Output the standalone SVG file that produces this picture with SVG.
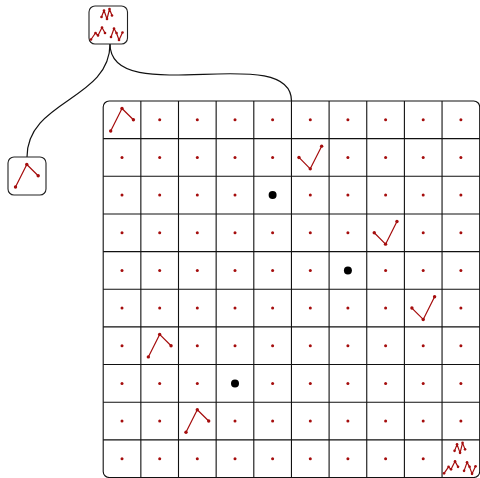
<svg xmlns="http://www.w3.org/2000/svg" xmlns:xlink="http://www.w3.org/1999/xlink" width="480" height="478" viewBox="0 0 480 478">
<style>
.box{fill:#fff;stroke:#222;stroke-width:1.1}
.grid{fill:none;stroke:#111;stroke-width:1.1}
.link{fill:none;stroke:#111;stroke-width:1.2}
.g{fill:none;stroke:#a50d0d;stroke-width:1.2;stroke-linejoin:round}
.v{fill:#a50d0d}
.dot{fill:#a50d0d}
.big{fill:#000}
</style>
<defs>
<g id="lam">
<polyline class="g" points="7.5,30 18.8,7.5 30.2,18.8"/>
<circle class="v" cx="7.5" cy="30" r="1.7"/><circle class="v" cx="18.8" cy="7.5" r="1.7"/><circle class="v" cx="30.2" cy="18.8" r="1.7"/>
</g>
<g id="vee">
<polyline class="g" points="7.5,18.8 18.8,30.2 30.2,7.5"/>
<circle class="v" cx="7.5" cy="18.8" r="1.7"/><circle class="v" cx="18.8" cy="30.2" r="1.7"/><circle class="v" cx="30.2" cy="7.5" r="1.7"/>
</g>
<g id="combo">
<polyline class="g" points="12.5,11 15,4.5 18,13 20.5,3 23,9.5"/>
<circle class="v" cx="12.5" cy="11" r="1.3"/><circle class="v" cx="15" cy="4.5" r="1.3"/><circle class="v" cx="18" cy="13" r="1.3"/><circle class="v" cx="20.5" cy="3" r="1.3"/><circle class="v" cx="23" cy="9.5" r="1.3"/>
<polyline class="g" points="2,33.5 6.5,27 9,29.5 13,21.5 16,27"/>
<circle class="v" cx="2" cy="33.5" r="1.3"/><circle class="v" cx="6.5" cy="27" r="1.3"/><circle class="v" cx="9" cy="29.5" r="1.3"/><circle class="v" cx="13" cy="21.5" r="1.3"/><circle class="v" cx="16" cy="27" r="1.3"/>
<polyline class="g" points="22,31 25,22.5 27.5,27 30,34 33.5,26.5"/>
<circle class="v" cx="22" cy="31" r="1.3"/><circle class="v" cx="25" cy="22.5" r="1.3"/><circle class="v" cx="27.5" cy="27" r="1.3"/><circle class="v" cx="30" cy="34" r="1.3"/><circle class="v" cx="33.5" cy="26.5" r="1.3"/>
</g>
</defs>

<g id="connectors">
<path class="link" d="M110,44 C110,100 27,100 27,157"/>
<path class="link" d="M110,44 C110,110 291.5,40 291.5,101"/>
</g>

<g id="root">
<rect class="box" x="89" y="6" width="38.5" height="38" rx="6"/>
<use xlink:href="#combo" x="89" y="6"/>
</g>

<g id="left">
<rect class="box" x="8" y="157" width="38" height="38" rx="6"/>
<use xlink:href="#lam" x="8" y="157"/>
</g>

<g id="grid">
<rect class="grid" x="103.2" y="101" width="376.5" height="376.5" rx="6" style="fill:#fff"/>
<path class="grid" d="M140.85,101V477.5M178.5,101V477.5M216.15,101V477.5M253.8,101V477.5M291.45,101V477.5M329.1,101V477.5M366.75,101V477.5M404.4,101V477.5M442.05,101V477.5M103.2,138.65H479.7M103.2,176.3H479.7M103.2,213.95H479.7M103.2,251.6H479.7M103.2,289.25H479.7M103.2,326.9H479.7M103.2,364.55H479.7M103.2,402.2H479.7M103.2,439.85H479.7"/>
</g>

<g id="cells">
<use xlink:href="#lam" x="103.2" y="101"/>
<use xlink:href="#vee" x="291.45" y="138.65"/>
<use xlink:href="#vee" x="366.75" y="213.95"/>
<use xlink:href="#vee" x="404.4" y="289.25"/>
<use xlink:href="#lam" x="140.85" y="326.9"/>
<use xlink:href="#lam" x="178.5" y="402.2"/>
<use xlink:href="#combo" x="442.05" y="439.85"/>
<circle class="big" cx="272.6" cy="195.1" r="4"/>
<circle class="big" cx="347.9" cy="270.4" r="4"/>
<circle class="big" cx="235" cy="383.4" r="4"/>
</g>

<g id="dots">
<circle class="dot" cx="159.7" cy="119.8" r="1.5"/><circle class="dot" cx="197.3" cy="119.8" r="1.5"/><circle class="dot" cx="235" cy="119.8" r="1.5"/><circle class="dot" cx="272.6" cy="119.8" r="1.5"/><circle class="dot" cx="310.3" cy="119.8" r="1.5"/><circle class="dot" cx="347.9" cy="119.8" r="1.5"/><circle class="dot" cx="385.6" cy="119.8" r="1.5"/><circle class="dot" cx="423.2" cy="119.8" r="1.5"/><circle class="dot" cx="460.9" cy="119.8" r="1.5"/>
<circle class="dot" cx="122" cy="157.5" r="1.5"/><circle class="dot" cx="159.7" cy="157.5" r="1.5"/><circle class="dot" cx="197.3" cy="157.5" r="1.5"/><circle class="dot" cx="235" cy="157.5" r="1.5"/><circle class="dot" cx="272.6" cy="157.5" r="1.5"/><circle class="dot" cx="347.9" cy="157.5" r="1.5"/><circle class="dot" cx="385.6" cy="157.5" r="1.5"/><circle class="dot" cx="423.2" cy="157.5" r="1.5"/><circle class="dot" cx="460.9" cy="157.5" r="1.5"/>
<circle class="dot" cx="122" cy="195.1" r="1.5"/><circle class="dot" cx="159.7" cy="195.1" r="1.5"/><circle class="dot" cx="197.3" cy="195.1" r="1.5"/><circle class="dot" cx="235" cy="195.1" r="1.5"/><circle class="dot" cx="310.3" cy="195.1" r="1.5"/><circle class="dot" cx="347.9" cy="195.1" r="1.5"/><circle class="dot" cx="385.6" cy="195.1" r="1.5"/><circle class="dot" cx="423.2" cy="195.1" r="1.5"/><circle class="dot" cx="460.9" cy="195.1" r="1.5"/>
<circle class="dot" cx="122" cy="232.8" r="1.5"/><circle class="dot" cx="159.7" cy="232.8" r="1.5"/><circle class="dot" cx="197.3" cy="232.8" r="1.5"/><circle class="dot" cx="235" cy="232.8" r="1.5"/><circle class="dot" cx="272.6" cy="232.8" r="1.5"/><circle class="dot" cx="310.3" cy="232.8" r="1.5"/><circle class="dot" cx="347.9" cy="232.8" r="1.5"/><circle class="dot" cx="423.2" cy="232.8" r="1.5"/><circle class="dot" cx="460.9" cy="232.8" r="1.5"/>
<circle class="dot" cx="122" cy="270.4" r="1.5"/><circle class="dot" cx="159.7" cy="270.4" r="1.5"/><circle class="dot" cx="197.3" cy="270.4" r="1.5"/><circle class="dot" cx="235" cy="270.4" r="1.5"/><circle class="dot" cx="272.6" cy="270.4" r="1.5"/><circle class="dot" cx="310.3" cy="270.4" r="1.5"/><circle class="dot" cx="385.6" cy="270.4" r="1.5"/><circle class="dot" cx="423.2" cy="270.4" r="1.5"/><circle class="dot" cx="460.9" cy="270.4" r="1.5"/>
<circle class="dot" cx="122" cy="308.1" r="1.5"/><circle class="dot" cx="159.7" cy="308.1" r="1.5"/><circle class="dot" cx="197.3" cy="308.1" r="1.5"/><circle class="dot" cx="235" cy="308.1" r="1.5"/><circle class="dot" cx="272.6" cy="308.1" r="1.5"/><circle class="dot" cx="310.3" cy="308.1" r="1.5"/><circle class="dot" cx="347.9" cy="308.1" r="1.5"/><circle class="dot" cx="385.6" cy="308.1" r="1.5"/><circle class="dot" cx="460.9" cy="308.1" r="1.5"/>
<circle class="dot" cx="122" cy="345.7" r="1.5"/><circle class="dot" cx="197.3" cy="345.7" r="1.5"/><circle class="dot" cx="235" cy="345.7" r="1.5"/><circle class="dot" cx="272.6" cy="345.7" r="1.5"/><circle class="dot" cx="310.3" cy="345.7" r="1.5"/><circle class="dot" cx="347.9" cy="345.7" r="1.5"/><circle class="dot" cx="385.6" cy="345.7" r="1.5"/><circle class="dot" cx="423.2" cy="345.7" r="1.5"/><circle class="dot" cx="460.9" cy="345.7" r="1.5"/>
<circle class="dot" cx="122" cy="383.4" r="1.5"/><circle class="dot" cx="159.7" cy="383.4" r="1.5"/><circle class="dot" cx="197.3" cy="383.4" r="1.5"/><circle class="dot" cx="272.6" cy="383.4" r="1.5"/><circle class="dot" cx="310.3" cy="383.4" r="1.5"/><circle class="dot" cx="347.9" cy="383.4" r="1.5"/><circle class="dot" cx="385.6" cy="383.4" r="1.5"/><circle class="dot" cx="423.2" cy="383.4" r="1.5"/><circle class="dot" cx="460.9" cy="383.4" r="1.5"/>
<circle class="dot" cx="122" cy="421" r="1.5"/><circle class="dot" cx="159.7" cy="421" r="1.5"/><circle class="dot" cx="235" cy="421" r="1.5"/><circle class="dot" cx="272.6" cy="421" r="1.5"/><circle class="dot" cx="310.3" cy="421" r="1.5"/><circle class="dot" cx="347.9" cy="421" r="1.5"/><circle class="dot" cx="385.6" cy="421" r="1.5"/><circle class="dot" cx="423.2" cy="421" r="1.5"/><circle class="dot" cx="460.9" cy="421" r="1.5"/>
<circle class="dot" cx="122" cy="458.7" r="1.5"/><circle class="dot" cx="159.7" cy="458.7" r="1.5"/><circle class="dot" cx="197.3" cy="458.7" r="1.5"/><circle class="dot" cx="235" cy="458.7" r="1.5"/><circle class="dot" cx="272.6" cy="458.7" r="1.5"/><circle class="dot" cx="310.3" cy="458.7" r="1.5"/><circle class="dot" cx="347.9" cy="458.7" r="1.5"/><circle class="dot" cx="385.6" cy="458.7" r="1.5"/><circle class="dot" cx="423.2" cy="458.7" r="1.5"/>
</g>
</svg>
